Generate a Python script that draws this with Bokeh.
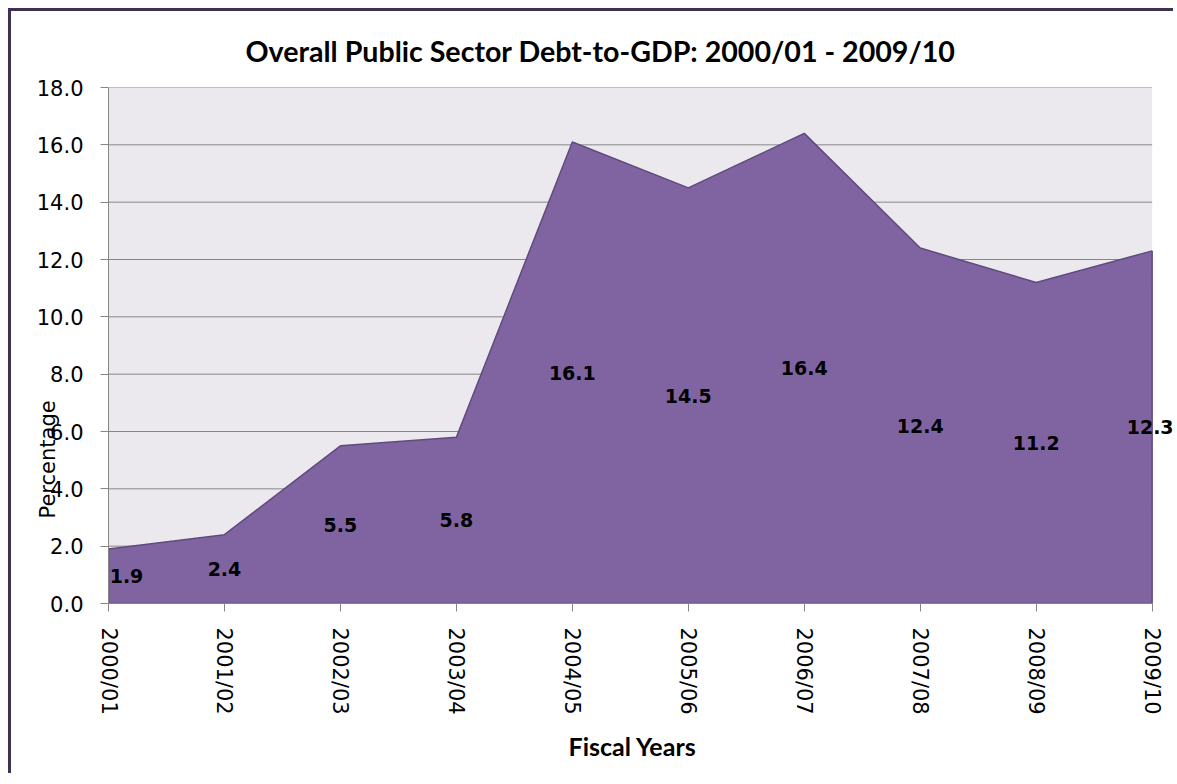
import numpy as np
from bokeh.plotting import figure
from bokeh.models import FixedTicker, NumeralTickFormatter, Label, Range1d, Title
from bokeh.embed import file_html
from bokeh.resources import INLINE

years = ["2000/01", "2001/02", "2002/03", "2003/04", "2004/05",
         "2005/06", "2006/07", "2007/08", "2008/09", "2009/10"]
debt = [1.9, 2.4, 5.5, 5.8, 16.1, 14.5, 16.4, 12.4, 11.2, 12.3]
y_ticks = [0, 2, 4, 6, 8, 10, 12, 14, 16, 18]

idx = list(range(len(years)))
x_last = idx[-1]
y_max = y_ticks[-1]

p = figure(width=1165, height=765, output_backend="svg", toolbar_location=None,
           x_range=Range1d(0, x_last + 0.21), y_range=Range1d(0, y_max),
           min_border_left=97, min_border_right=0, min_border_top=76, min_border_bottom=173)
p.styles = {"box-shadow": "-3px -3px 0px 0px #3F3151",
            "margin-left": "11px", "margin-top": "11px"}

p.add_layout(Title(text="Overall Public Sector Debt-to-GDP: 2000/01 - 2009/10",
                   align="left", offset=137, standoff=39, vertical_align="bottom",
                   text_font="Lato", text_font_style="bold", text_font_size="28.6px",
                   text_color="#000000"), "above")

p.background_fill_color = "#FFFFFF"
p.border_fill_color = "#FFFFFF"
p.outline_line_color = None

# plot area background and horizontal gridlines (limited to the category span)
p.quad(left=idx[0], right=x_last, bottom=0, top=y_max, fill_color="#EBE9EE", line_color=None)
p.segment(x0=[idx[0]] * len(y_ticks), x1=[x_last] * len(y_ticks), y0=y_ticks, y1=y_ticks,
          line_color="#868686", line_width=1)

# area
xs = idx + [x_last, idx[0]]
ys = debt + [0, 0]
p.patch(xs, ys, fill_color="#8064A2", line_color="#5F4B7E", line_width=1.5)

# axes
p.xaxis.ticker = FixedTicker(ticks=idx)
p.xaxis.bounds = (idx[0], x_last)
p.xaxis.major_label_overrides = {i: years[i] for i in idx}
p.xaxis.major_label_orientation = -np.pi / 2
p.yaxis.ticker = FixedTicker(ticks=y_ticks)
p.yaxis.formatter = NumeralTickFormatter(format="0.0")
for ax in (p.xaxis[0], p.yaxis[0]):
    ax.axis_line_color = "#868686"
    ax.major_tick_line_color = "#868686"
    ax.major_tick_out = 8
    ax.major_tick_in = 0
    ax.minor_tick_line_color = None
    ax.major_label_text_font = "DejaVu Sans"
    ax.major_label_text_font_size = "21px"
    ax.major_label_text_color = "#000000"
p.xaxis.major_label_standoff = 16
p.yaxis.major_label_standoff = 17

p.xgrid.grid_line_color = None
p.ygrid.grid_line_color = None

# x-axis title
p.add_layout(Title(text="Fiscal Years", align="left", offset=460, standoff=26,
                   vertical_align="top", text_font="Lato", text_font_style="bold",
                   text_font_size="25px", text_color="#000000"), "below")

# y-axis title: low and overlapping the tick labels, as in the original
p.add_layout(Title(text="Percentage", align="left", offset=85, standoff=-52,
                   vertical_align="bottom", text_font="DejaVu Sans",
                   text_font_style="normal", text_font_size="21px",
                   text_color="#000000"), "left")

# data labels
n = len(debt)
for i, v in zip(idx, debt):
    off = 18 if i == 0 else (-2 if i == n - 1 else 0)
    p.add_layout(Label(x=i, y=v / 2, text="%.1f" % v, x_offset=off,
                       text_align="center", text_baseline="middle",
                       text_font="DejaVu Sans", text_font_style="bold",
                       text_font_size="19px", text_color="#000000"))

open("out.html", "w").write(file_html(p, INLINE))
